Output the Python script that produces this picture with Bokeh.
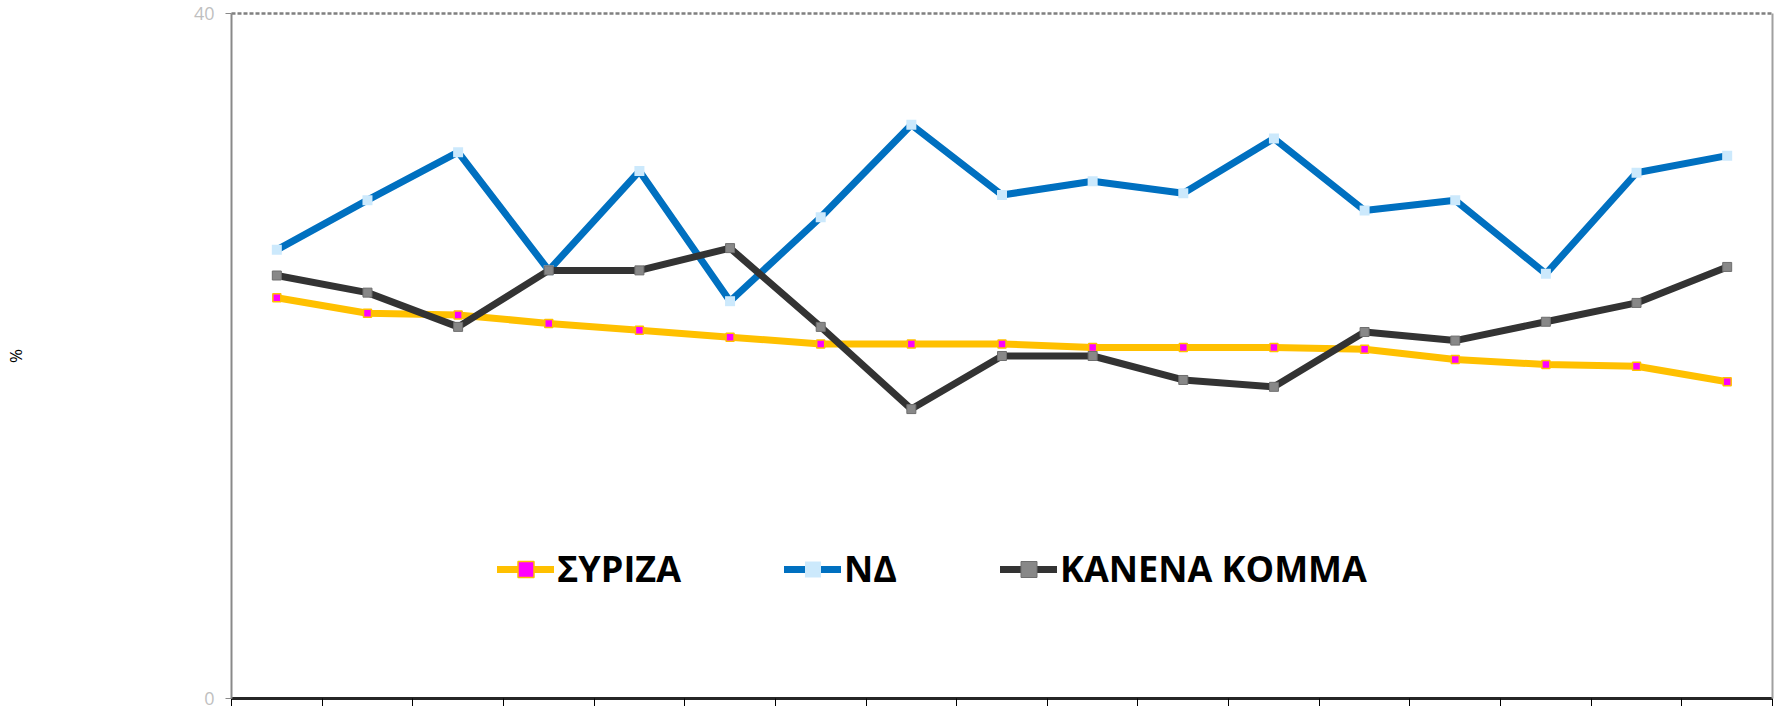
from bokeh.plotting import figure
from bokeh.models import Range1d, FixedTicker, LinearAxis, Legend, LegendItem, ColumnDataSource
from bokeh.embed import file_html
from bokeh.resources import INLINE

# ---- data ----
series_names = ["ΣΥΡΙΖΑ", "ΝΔ", "ΚΑΝΕΝΑ ΚΟΜΜΑ"]
syriza = [23.4, 22.5, 22.4, 21.9, 21.5, 21.1, 20.7, 20.7, 20.7, 20.5, 20.5, 20.5, 20.4, 19.8, 19.5, 19.4, 18.5]
nd = [26.2, 29.1, 31.9, 25.0, 30.8, 23.2, 28.1, 33.5, 29.4, 30.2, 29.5, 32.7, 28.5, 29.1, 24.8, 30.7, 31.7]
kanena = [24.7, 23.7, 21.7, 25.0, 25.0, 26.3, 21.7, 16.9, 20.0, 20.0, 18.6, 18.2, 21.4, 20.9, 22.0, 23.1, 25.2]
y_ticks = [0, 40]
y_label = "%"

n = len(syriza)
xs = [i + 0.5 for i in range(n)]  # category centres

src = ColumnDataSource(dict(x=xs, syriza=syriza, nd=nd, kanena=kanena))

p = figure(width=1775, height=706, output_backend="svg", toolbar_location=None,
           x_range=Range1d(0, n), y_range=Range1d(0, 40),
           min_border_left=229, min_border_right=3, min_border_top=13, min_border_bottom=8,
           background_fill_color="white", border_fill_color="white")
p.outline_line_color = None
p.xgrid.visible = False
p.ygrid.visible = False

# y axis
p.yaxis.ticker = FixedTicker(ticks=y_ticks)
p.yaxis.axis_line_color = "#898989"
p.yaxis.axis_line_width = 2
p.yaxis.major_tick_line_color = "#898989"
p.yaxis.major_tick_out = 6
p.yaxis.major_tick_in = 0
p.yaxis.minor_tick_line_color = None
p.yaxis.major_label_text_color = "#BFBFBF"
p.yaxis.major_label_text_font = "Open Sans"
p.yaxis.major_label_text_font_size = "18px"
p.yaxis.major_label_standoff = 11
p.yaxis.axis_label = y_label
p.yaxis.axis_label_text_font = "Open Sans"
p.yaxis.axis_label_text_font_style = "normal"
p.yaxis.axis_label_text_font_size = "17px"
p.yaxis.axis_label_text_color = "black"
p.yaxis.axis_label_standoff = 164

# x axis
p.xaxis.ticker = FixedTicker(ticks=list(range(n + 1)))
p.xaxis.axis_line_color = "#262626"
p.xaxis.axis_line_width = 3
p.xaxis.major_tick_line_color = "black"
p.xaxis.major_tick_out = 8
p.xaxis.major_tick_in = 0
p.xaxis.minor_tick_line_color = None
p.xaxis.major_label_overrides = {i: "" for i in range(n + 1)}
p.xaxis.major_label_text_font_size = "10px"
p.xaxis.major_label_standoff = 0

# top dashed border and right border
top = LinearAxis(ticker=FixedTicker(ticks=[]), axis_line_color="#808080", axis_line_width=2.5,
                 axis_line_dash="4 2", major_tick_line_color=None, minor_tick_line_color=None,
                 major_label_standoff=0)
p.add_layout(top, "above")
right = LinearAxis(ticker=FixedTicker(ticks=[]), axis_line_color="#A0A0A0", axis_line_width=2,
                   major_tick_line_color=None, minor_tick_line_color=None,
                   major_label_standoff=0)
p.add_layout(right, "right")

# series
l1 = p.line("x", "syriza", source=src, line_color="#FFC000", line_width=7, line_join="round", line_cap="round")
m1 = p.scatter("x", "syriza", source=src, marker="square", size=8, fill_color="#FF00FF",
               line_color="#FFC000", line_width=1.5)
l2 = p.line("x", "nd", source=src, line_color="#0070C0", line_width=7, line_join="round", line_cap="round")
m2 = p.scatter("x", "nd", source=src, marker="square", size=10, fill_color="#CCE9FC", line_color=None)
l3 = p.line("x", "kanena", source=src, line_color="#333333", line_width=7, line_join="round", line_cap="round")
m3 = p.scatter("x", "kanena", source=src, marker="square", size=9, fill_color="#888888",
               line_color="#6E6E6E", line_width=1)

legend = Legend(items=[LegendItem(label=series_names[0], renderers=[l1, m1]),
                       LegendItem(label=series_names[1], renderers=[l2, m2]),
                       LegendItem(label=series_names[2], renderers=[l3, m3])],
                orientation="horizontal", location=(266, 105),
                glyph_width=57, glyph_height=40, label_standoff=3, spacing=103,
                padding=0, margin=0, border_line_color=None, background_fill_alpha=0,
                label_text_font="Open Sans", label_text_font_style="bold",
                label_text_font_size="36px", label_text_color="black")
p.add_layout(legend, "center")

open("out.html", "w").write(file_html(p, INLINE))
